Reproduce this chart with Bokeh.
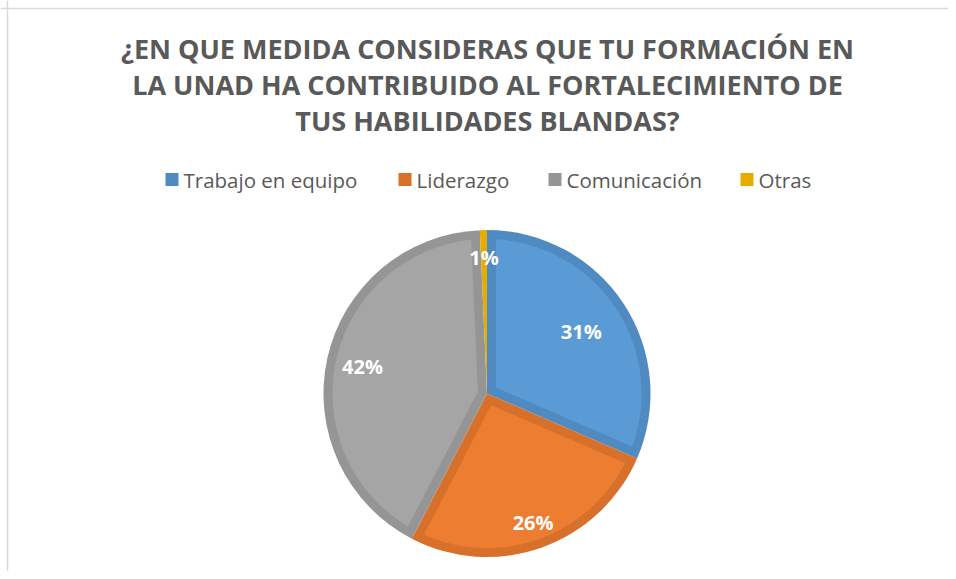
import math
from bokeh.plotting import figure
from bokeh.models import Range1d, Span
from bokeh.core.properties import value
from bokeh.embed import file_html
from bokeh.resources import INLINE

# ---- data ----
categories = ["Trabajo en equipo", "Liderazgo", "Comunicación", "Otras"]
shares = [31.5, 26.1, 41.7, 0.7]
labels = ["31%", "26%", "42%", "1%"]
title_lines = ["¿EN QUE MEDIDA CONSIDERAS QUE TU FORMACIÓN EN",
               "LA UNAD HA CONTRIBUIDO AL FORTALECIMIENTO DE",
               "TUS HABILIDADES BLANDAS?"]

# ---- style ----
fill_colors = ["#5B9BD5", "#ED7D31", "#A5A5A5", "#FFC000"]
edge_colors = ["#4F8AC1", "#D6702B", "#959595", "#E6AD00"]
label_r = [0.69, 0.84, 0.78, 0.83]
W, H = 948, 571
CX, CY, R, BW = 486.5, H - 393.0, 163.5, 9.0
FONT = "Open Sans"
TXT = "#595959"

p = figure(width=W, height=H, output_backend="svg", toolbar_location=None,
           x_range=Range1d(0, W), y_range=Range1d(0, H), min_border=0)
p.axis.visible = False
p.grid.visible = False
p.outline_line_color = None
p.background_fill_color = "white"
p.border_fill_color = "white"

# frame lines (left & top)
p.add_layout(Span(location=7, dimension="height", line_color="#D9D9D9", line_width=1.5))
p.add_layout(Span(location=H - 8, dimension="width", line_color="#D9D9D9", line_width=1.5))

# ---- pie ----
total = sum(shares)
cum = 0.0
starts, ends = [], []
for s in shares:
    a0 = math.pi / 2 - 2 * math.pi * cum / total
    cum += s
    a1 = math.pi / 2 - 2 * math.pi * cum / total
    starts.append(a0)
    ends.append(a1)

p.wedge(x=[CX] * 4, y=[CY] * 4, radius=R, start_angle=starts, end_angle=ends,
        direction="clock", fill_color=edge_colors, line_color=None)

# inner lighter region (inset by border width)
for i, s in enumerate(shares):
    h = math.pi * s / total
    if h <= 0 or math.sin(h) == 0:
        continue
    d = BW / math.sin(h)
    if d > R * 0.6:
        continue
    a0, a1 = starts[i], ends[i]
    m = (a0 + a1) / 2
    ri = R - BW
    t = math.sqrt(ri * ri - BW * BW)
    delta = math.atan2(BW, t)
    xs = [CX + d * math.cos(m)]
    ys = [CY + d * math.sin(m)]
    n = 60
    b0, b1 = a0 - delta, a1 + delta
    for k in range(n + 1):
        a = b0 + (b1 - b0) * k / n
        xs.append(CX + ri * math.cos(a))
        ys.append(CY + ri * math.sin(a))
    p.patch(xs, ys, fill_color=fill_colors[i], line_color=None)

# slice labels
lx, ly = [], []
for i in range(4):
    m = (starts[i] + ends[i]) / 2
    lx.append(CX + label_r[i] * R * math.cos(m))
    ly.append(CY + label_r[i] * R * math.sin(m))
p.text(x=lx, y=ly, text=labels, text_color="white", text_font=value(FONT),
       text_font_style="bold", text_font_size="20px", text_align="center",
       text_baseline="middle")

# ---- title ----
p.text(x=[487] * 3, y=[H - 48, H - 84, H - 120], text=title_lines, text_color=TXT,
       text_font=value(FONT), text_font_style="bold", text_font_size="27px",
       text_align="center", text_baseline="middle")

# ---- legend ----
sq_x = [171.5, 404.5, 554.5, 746.5]
leg_y = H - 179
p.rect(x=sq_x, y=[leg_y] * 4, width=13, height=13, fill_color=edge_colors,
       line_color=None)
p.text(x=[x + 11.5 for x in sq_x], y=[leg_y] * 4, text=categories,
       text_color=TXT, text_font=value(FONT), text_font_size="20.5px",
       text_align="left", text_baseline="middle")

open("out.html", "w").write(file_html(p, INLINE))
